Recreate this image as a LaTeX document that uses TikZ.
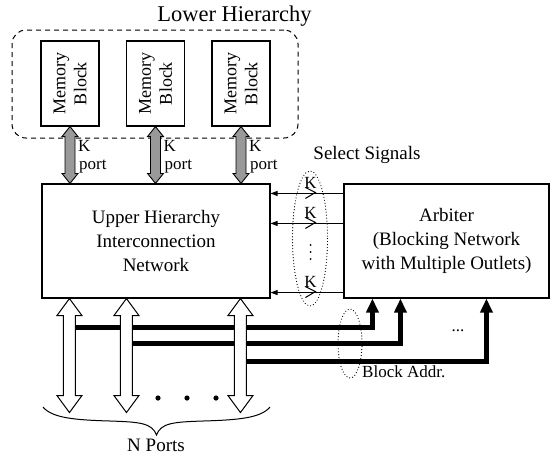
\documentclass[tikz,border=0pt]{standalone}
\usepackage{fontspec}
\setmainfont{Liberation Serif}
\usetikzlibrary{arrows.meta,calc}

% vertical two-headed bus arrow: #1 style, #2 upper tip, #3 lower tip,
% #4 shaft half-width, #5 head half-width, #6 head length
\newcommand\vbus[6]{%
  \draw[#1] (#2) -- ++(#5,#6) -- ++(#4-#5,0) -- ($(#3)+(#4,-#6)$)
    -- ++(#5-#4,0) -- (#3) -- ++(-#5,-#6) -- ++(#5-#4,0)
    -- ($(#2)+(-#4,#6)$) -- ++(#4-#5,0) -- cycle;}

\tikzset{
  box/.style={draw, line width=1.1pt, inner sep=0pt, align=center,
    font=\fontsize{19}{24}\selectfont},
  memblk/.style={draw, line width=1.1pt, minimum width=58pt, minimum height=85pt},
  memtxt/.style={rotate=90, align=center, inner sep=0pt,
    font=\fontsize{18}{21}\selectfont},
  lbl/.style={inner sep=0pt, font=\fontsize{17}{20}\selectfont},
  biglbl/.style={inner sep=0pt, font=\fontsize{19}{22}\selectfont},
  graybus/.style={draw, line width=0.9pt, fill=black!40, line join=miter},
  whitebus/.style={draw, line width=1pt, fill=white, line join=miter},
  sel/.style={line width=1pt, -{Triangle[length=7pt,width=5pt]}},
  addr/.style={line width=4.6pt, -{Triangle[length=14pt,width=12pt]}},
  dotline/.style={line width=1.2pt, line cap=round, dash pattern=on 0pt off 3pt},
  chev/.style={line width=1pt},
}

\begin{document}
\begin{tikzpicture}[x=1pt, y=-1pt]
\useasboundingbox (0,0) rectangle (554,456);

% lower hierarchy: memory blocks in a dashed frame
\node[draw, line width=1pt, dash pattern=on 5pt off 4pt, rounded corners=14pt,
      minimum width=286pt, minimum height=108pt] (lh) at (155,84) {};
\node[inner sep=0pt, font=\fontsize{22.5}{26}\selectfont] (lht) at (234.5,16) {Lower Hierarchy};

\node[memblk] (m1) at (70,83.5) {};
\node[memblk] (m2) at (155.5,83.5) {};
\node[memblk] (m3) at (241,83.5) {};
\node[memtxt] (m1t) at (m1) {Memory\\Block};
\node[memtxt] (m2t) at (m2) {Memory\\Block};
\node[memtxt] (m3t) at (m3) {Memory\\Block};

% upper hierarchy network and arbiter
\node[box, minimum width=228pt, minimum height=114pt] (up) at (156,241)
  {Upper Hierarchy\\Interconnection\\Network};
\node[box, minimum width=205pt, minimum height=114pt] (arb) at (446.5,241)
  {Arbiter\\(Blocking Network\\with Multiple Outlets)};

% K-port buses between memory blocks and the network
\foreach \i in {1,2,3}{
  \coordinate (g\i t) at (m\i.south);
  \coordinate (g\i b) at (m\i.south |- up.north);
  \vbus{graybus}{g\i t}{g\i b}{5}{8}{10}
  \node[lbl, anchor=west] (k\i) at ($(m\i.south)+(8,19)$) {K};
  \node[lbl, anchor=west] (p\i) at ($(m\i.south)+(9,40)$) {port};
}

% select signals from the arbiter
\coordinate (s1) at ($(arb.north west)+(0,10)$);
\coordinate (s2) at ($(arb.north west)+(0,40)$);
\coordinate (s3) at ($(arb.south west)+(0,-6)$);
\foreach \i in {1,2,3}{
  \draw[sel] (s\i) -- (s\i -| up.east);
  \coordinate (c\i) at ($(s\i)+(-33,0)$);
  \draw[chev] ($(c\i)+(-5,-6)$) -- ($(c\i)+(5,-1)$) -- ($(c\i)+(-5,5)$);
  \node[lbl] (sk\i) at ($(c\i)+(0,-11)$) {K};
}
\foreach \yy in {245,252,259}
  \fill (310.7,\yy) circle [radius=1pt];
\coordinate (selc) at (310,238.5);
\draw[dotline] (selc) ellipse [x radius=17.5, y radius=67.5];
\node[biglbl] (selt) at (367,155) {Select Signals};

% N ports and block address lines
\coordinate (n1t) at ($(up.south west)+(28,0)$);
\coordinate (n2t) at ($(up.south west)+(85,0)$);
\coordinate (n3t) at ($(up.south west)+(199,0)$);
\draw[addr] ($(n1t)+(0,29)$) -| ($(arb.south west)+(29,0)$);
\draw[addr] ($(n2t)+(0,45)$) -| ($(arb.south west)+(57,0)$);
\draw[addr] ($(n3t)+(0,63)$) -| ($(arb.south west)+(143,0)$);
\foreach \i in {1,2,3}{
  \coordinate (n\i b) at ($(n\i t)+(0,114)$);
  \vbus{whitebus}{n\i t}{n\i b}{6}{12.5}{17}
}
\node[lbl] (adots) at (458,331) {...};

\coordinate (addrc) at (350,343.5);
\draw[dotline] (addrc) ellipse [x radius=12, y radius=34.5];
\node[lbl, anchor=west] (addrt) at (362,372) {Block Addr.};

% further ports and the brace below them
\foreach \xx in {158,187,216}
  \fill (\xx,398) circle [radius=2.6pt];
\draw[line width=1pt] (43,407) .. controls (52,418) and (75,420) .. (110,421)
  .. controls (140,422) and (152,423) .. (156.5,435)
  .. controls (161,423) and (173,422) .. (203,421)
  .. controls (238,420) and (261,418) .. (270,407);
\node[biglbl] (nports) at (156,445) {N Ports};
\end{tikzpicture}
\end{document}
